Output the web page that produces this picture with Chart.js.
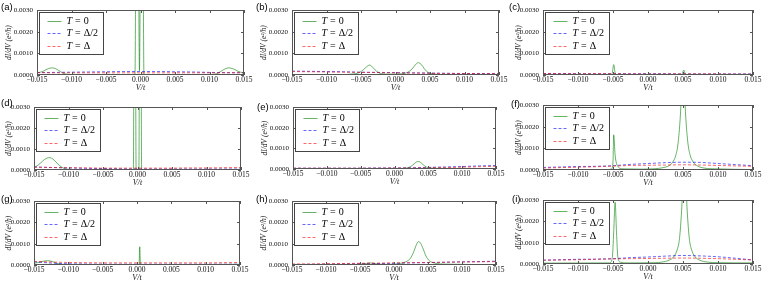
<!DOCTYPE html>
<html>
<head>
<meta charset="utf-8">
<script src="https://cdn.jsdelivr.net/npm/chart.js@4.4.0/dist/chart.umd.min.js"></script>
<style>
  body { margin: 0; background: #fff; }
  #wrap { position: relative; width: 763px; height: 283px; overflow: hidden; }
  #wrap canvas { position: absolute; }
  .tag { position: absolute; font: 9.5px "Liberation Sans", sans-serif; line-height: 1; color: #000; }
</style>
</head>
<body>
<div id="wrap"></div>
<script>
// common bias grid for the finite temperature curves
const vGrid = [-0.015, -0.0125, -0.01, -0.0075, -0.005, -0.0025, 0, 0.0025, 0.005, 0.0075, 0.01, 0.0125, 0.015];
const xTickVals = [-0.015, -0.01, -0.005, 0, 0.005, 0.01, 0.015];
const yTickVals = [0, 0.0005, 0.001, 0.0015, 0.002, 0.0025, 0.003];
const tags = ['(a)', '(b)', '(c)', '(d)', '(e)', '(f)', '(g)', '(h)', '(i)'];
const seriesLabels = ['T = 0', 'T = Δ/2', 'T = Δ'];

// T = 0 curves as [V, dI/dV] pairs
const aZero = [[-0.015, 0.0001], [-0.0145, 0.00013], [-0.014, 0.00019], [-0.0137, 0.00025], [-0.0133, 0.0003], [-0.0128, 0.00033], [-0.0123, 0.00029], [-0.0118, 0.0002], [-0.0113, 0.0001], [-0.0108, 0.00004], [-0.0102, 0.00002], [-0.009, 0.00001], [-0.002, 0.00001], [-0.0008, 0.00003], [-0.0005, 0.02], [-0.00015, 0.0002], [0.0002, 0.02], [0.0005, 0.00003], [0.002, 0.00001], [0.009, 0.00001], [0.0102, 0.00002], [0.0108, 0.00004], [0.0113, 0.0001], [0.0118, 0.0002], [0.0123, 0.00029], [0.0128, 0.00033], [0.0133, 0.0003], [0.0137, 0.00025], [0.014, 0.00019], [0.0145, 0.00013], [0.015, 0.0001]];
const bZero = [[-0.015, 0.00001], [-0.008, 0.00002], [-0.006, 0.00005], [-0.0052, 0.00012], [-0.0046, 0.00026], [-0.0041, 0.0004], [-0.0038, 0.00046], [-0.0035, 0.00042], [-0.003, 0.00025], [-0.0025, 0.00012], [-0.002, 0.00006], [-0.001, 0.00004], [0, 0.00004], [0.001, 0.00006], [0.0018, 0.00013], [0.0024, 0.00028], [0.0029, 0.00048], [0.0033, 0.00057], [0.0037, 0.0005], [0.0042, 0.00028], [0.0047, 0.00012], [0.0055, 0.00005], [0.007, 0.00002], [0.015, 0.00001]];
const cZero = [[-0.015, 0.00001], [-0.0053, 0.00002], [-0.0051, 0.0001], [-0.0049, 0.00048], [-0.0047, 0.0001], [-0.0045, 0.00002], [0.0047, 0.00002], [0.0049, 0.00006], [0.0051, 0.00023], [0.0053, 0.00006], [0.0055, 0.00002], [0.015, 0.00001]];
const dZero = [[-0.015, 0.00012], [-0.0145, 0.00021], [-0.014, 0.00035], [-0.0135, 0.0005], [-0.013, 0.00058], [-0.0127, 0.00059], [-0.0123, 0.00053], [-0.0118, 0.00038], [-0.0113, 0.00021], [-0.0108, 0.0001], [-0.0102, 0.00004], [-0.009, 0.00002], [-0.001, 0.00001], [-0.0006, 0.00003], [-0.0004, 0.02], [-0.0002, 0.00003], [0.0002, 0.00003], [0.0004, 0.02], [0.0006, 0.00003], [0.002, 0.00001], [0.015, 0.00001]];
const eZero = [[-0.015, 0.00001], [0.001, 0.00002], [0.0018, 0.00005], [0.0024, 0.00012], [0.0029, 0.00025], [0.0034, 0.00036], [0.0037, 0.00035], [0.0042, 0.00022], [0.0047, 0.0001], [0.0053, 0.00005], [0.007, 0.00003], [0.01, 0.00002], [0.015, 0.00001]];
const fZero = [[-0.015, 0.00001], [-0.0058, 0.00002], [-0.0052, 0.00005], [-0.005, 0.0004], [-0.0049, 0.00163], [-0.0047, 0.0007], [-0.0045, 0.0003], [-0.0042, 0.00012], [-0.0038, 0.00006], [-0.003, 0.00005], [-0.001, 0.00004], [0.001, 0.00006], [0.002, 0.0001], [0.003, 0.0002], [0.0035, 0.00035], [0.004, 0.00071], [0.0043, 0.00125], [0.0046, 0.0024], [0.0048, 0.00365], [0.005, 0.0044], [0.0052, 0.00365], [0.0054, 0.0024], [0.0057, 0.00125], [0.006, 0.00071], [0.0065, 0.00035], [0.007, 0.0002], [0.008, 0.00009], [0.01, 0.00005], [0.015, 0.00002]];
const gZero = [[-0.015, 0.00008], [-0.0145, 0.00011], [-0.014, 0.00015], [-0.0135, 0.00019], [-0.013, 0.0002], [-0.0125, 0.00018], [-0.012, 0.00012], [-0.0115, 0.00006], [-0.011, 0.00003], [-0.009, 0.00002], [0.0003, 0.00002], [0.0004, 0.00086], [0.0005, 0.00002], [0.015, 0.00003]];
const hZero = [[-0.015, 0.00001], [-0.006, 0.00002], [-0.0045, 0.00005], [-0.0035, 0.0001], [-0.0025, 0.00005], [-0.001, 0.00003], [0, 0.00004], [0.001, 0.00008], [0.0018, 0.00016], [0.0024, 0.00031], [0.0029, 0.00062], [0.0033, 0.00096], [0.0036, 0.0011], [0.0039, 0.00103], [0.0043, 0.00075], [0.0047, 0.00042], [0.0052, 0.0002], [0.006, 0.00009], [0.0075, 0.00004], [0.015, 0.00002]];
const iZero = [[-0.015, 0.00004], [-0.0055, 0.00005], [-0.0051, 0.0003], [-0.0049, 0.0015], [-0.0047, 0.0029], [-0.0045, 0.0015], [-0.0043, 0.0003], [-0.0039, 0.00008], [-0.003, 0.00005], [0.001, 0.00006], [0.002, 0.00009], [0.003, 0.00018], [0.0037, 0.00035], [0.0042, 0.0007], [0.0045, 0.0012], [0.0048, 0.0025], [0.005, 0.0038], [0.0052, 0.0045], [0.0054, 0.0038], [0.0056, 0.0025], [0.0059, 0.0012], [0.0062, 0.0007], [0.0067, 0.00035], [0.0074, 0.00018], [0.0085, 0.00009], [0.01, 0.00006], [0.015, 0.00005]];

// T = Delta/2 and T = Delta curves on vGrid
const aHalf = [0.00011, 0.00012, 0.00013, 0.00014, 0.00015, 0.00016, 0.00016, 0.00016, 0.00015, 0.00014, 0.00012, 0.00011, 0.0001];
const aFull = [0.00011, 0.0001, 0.0001, 0.0001, 0.0001, 0.0001, 0.0001, 0.0001, 0.0001, 0.0001, 0.0001, 0.0001, 0.00011];
const bHalf = [0.00018, 0.00017, 0.00016, 0.00015, 0.00013, 0.00012, 0.00011, 0.0001, 0.00009, 0.00008, 0.00007, 0.00007, 0.00006];
const bFull = [0.00016, 0.00015, 0.00014, 0.00013, 0.00012, 0.00011, 0.0001, 0.00009, 0.00008, 0.00007, 0.00007, 0.00006, 0.00006];
const cHalf = [0.00007, 0.00007, 0.00006, 0.00006, 0.00006, 0.00006, 0.00006, 0.00006, 0.00005, 0.00005, 0.00005, 0.00005, 0.00005];
const cFull = [0.00007, 0.00006, 0.00006, 0.00006, 0.00006, 0.00005, 0.00005, 0.00005, 0.00005, 0.00005, 0.00005, 0.00004, 0.00004];
const dHalf = [0.00015, 0.00012, 0.0001, 0.00008, 0.00007, 0.00006, 0.00005, 0.00005, 0.00005, 0.00005, 0.00005, 0.00005, 0.00005];
const dFull = [0.00013, 0.00012, 0.00011, 0.0001, 0.00009, 0.00009, 0.00009, 0.00009, 0.00009, 0.0001, 0.0001, 0.00011, 0.00012];
const eHalf = [0.00004, 0.00004, 0.00004, 0.00004, 0.00004, 0.00005, 0.00005, 0.00006, 0.00008, 0.0001, 0.00012, 0.00015, 0.00017];
const eFull = [0.00004, 0.00004, 0.00004, 0.00004, 0.00004, 0.00004, 0.00005, 0.00005, 0.00006, 0.00007, 0.00009, 0.00011, 0.00013];
const fHalf = [0.00012, 0.00014, 0.00016, 0.00017, 0.0002, 0.00026, 0.0003, 0.00034, 0.00036, 0.00035, 0.0003, 0.00025, 0.0002];
const fFull = [0.00009, 0.00011, 0.00013, 0.00015, 0.00018, 0.00021, 0.00022, 0.00023, 0.00024, 0.00023, 0.00021, 0.00019, 0.00017];
const gHalf = [0.00015, 0.00009, 0.00006, 0.00005, 0.00004, 0.00004, 0.00004, 0.00004, 0.00004, 0.00004, 0.00004, 0.00004, 0.00004];
const gFull = [0.00017, 0.00014, 0.00012, 0.00011, 0.0001, 0.0001, 0.0001, 0.0001, 0.0001, 0.0001, 0.0001, 0.00011, 0.00012];
const hHalf = [0.00002, 0.00003, 0.00004, 0.00005, 0.00006, 0.00007, 0.00008, 0.0001, 0.00011, 0.00013, 0.00015, 0.00016, 0.00018];
const hFull = [0.00005, 0.00005, 0.00006, 0.00007, 0.00008, 0.00009, 0.0001, 0.00011, 0.00012, 0.00013, 0.00014, 0.00015, 0.00016];
const iHalf = [0.00018, 0.0002, 0.00022, 0.00023, 0.00025, 0.0003, 0.00033, 0.00037, 0.0004, 0.00038, 0.00034, 0.00027, 0.00019];
const iFull = [0.00018, 0.00019, 0.0002, 0.00022, 0.00024, 0.00025, 0.00026, 0.00027, 0.00028, 0.00027, 0.00025, 0.00022, 0.00019];

const zeroSets = [aZero, bZero, cZero, dZero, eZero, fZero, gZero, hZero, iZero];
const halfSets = [aHalf, bHalf, cHalf, dHalf, eHalf, fHalf, gHalf, hHalf, iHalf];
const fullSets = [aFull, bFull, cFull, dFull, eFull, fFull, gFull, hFull, iFull];

// page layout: plot box edges, y axis width, tag position
const boxes = [
  { l: 37, t: 7, r: 244, b: 75, yw: 37, tx: 1, ty: 2 },
  { l: 292, t: 7, r: 499, b: 75, yw: 37, tx: 256, ty: 2 },
  { l: 543, t: 7, r: 753, b: 75, yw: 33, tx: 509, ty: 2 },
  { l: 34, t: 104, r: 241, b: 170, yw: 34, tx: 1, ty: 98 },
  { l: 293, t: 104, r: 496, b: 169, yw: 37, tx: 257, ty: 102 },
  { l: 543, t: 102, r: 753, b: 170, yw: 33, tx: 511, ty: 99 },
  { l: 34, t: 198, r: 240, b: 265, yw: 34, tx: 1, ty: 194 },
  { l: 292, t: 198, r: 496, b: 265, yw: 37, tx: 256, ty: 194 },
  { l: 543, t: 197, r: 753, b: 264, yw: 33, tx: 512, ty: 194 }
];
const padTop = 5, padRight = 10, xh = 20;

const serif = '"Liberation Serif", "DejaVu Serif", serif';

function fmtX(v) {
  if (Math.abs(v) < 1e-9) v = 0;
  return v.toFixed(3).replace('-', '\u2212');
}

const framePlugin = {
  id: 'frame',
  afterDatasetsDraw(chart) {
    const { ctx, chartArea: a, scales } = chart;
    const L = Math.round(a.left), R = Math.round(a.right), T = Math.round(a.top), B = Math.round(a.bottom);
    ctx.save();
    ctx.strokeStyle = '#555';
    ctx.lineWidth = 1;
    ctx.setLineDash([]);
    ctx.beginPath();
    scales.x.ticks.forEach(t => {
      const px = Math.round(scales.x.getPixelForValue(t.value)) + 0.5;
      ctx.moveTo(px, B); ctx.lineTo(px, B - 3);
      ctx.moveTo(px, T); ctx.lineTo(px, T + 3);
    });
    scales.y.ticks.forEach(t => {
      const py = Math.round(scales.y.getPixelForValue(t.value)) + 0.5;
      ctx.moveTo(L, py); ctx.lineTo(L + 3, py);
      ctx.moveTo(R, py); ctx.lineTo(R - 3, py);
    });
    ctx.stroke();
    ctx.strokeRect(L + 0.5, T + 0.5, R - L - 1, B - T - 1);

    // legend box in the upper left corner
    const bx = L + 2.5, by = T + 2.5, bw = 64, bh = 42;
    ctx.fillStyle = '#fff';
    ctx.fillRect(bx, by, bw, bh);
    ctx.strokeStyle = '#444';
    ctx.strokeRect(bx, by, bw, bh);
    ctx.textBaseline = 'middle';
    ctx.textAlign = 'left';
    seriesLabels.forEach((lab, i) => {
      const ds = chart.data.datasets[i];
      const ry = Math.round(by + 8 + i * 12.5) + 0.5;
      ctx.strokeStyle = ds.borderColor;
      ctx.setLineDash(ds.borderDash || []);
      ctx.beginPath();
      ctx.moveTo(bx + 8, ry); ctx.lineTo(bx + 22, ry);
      ctx.stroke();
      ctx.setLineDash([]);
      const parts = lab.split(' = ');
      let tx = bx + 27;
      ctx.fillStyle = '#000';
      ctx.font = 'italic 10px ' + serif;
      ctx.fillText(parts[0], tx, ry);
      tx += ctx.measureText(parts[0]).width + 3;
      ctx.font = '10px ' + serif;
      ctx.fillText('=', tx, ry);
      tx += ctx.measureText('=').width + 3;
      ctx.fillText(parts[1], tx, ry);
    });
    ctx.restore();
  }
};

const wrap = document.getElementById('wrap');

boxes.forEach((bx, k) => {
  const w = bx.yw + (bx.r - bx.l) + padRight;
  const h = padTop + (bx.b - bx.t) + xh;
  const cv = document.createElement('canvas');
  cv.width = w; cv.height = h;
  cv.style.left = (bx.l - bx.yw) + 'px';
  cv.style.top = (bx.t - padTop) + 'px';
  cv.style.width = w + 'px';
  cv.style.height = h + 'px';
  wrap.appendChild(cv);

  const tag = document.createElement('div');
  tag.className = 'tag';
  tag.textContent = tags[k];
  tag.style.left = bx.tx + 'px';
  tag.style.top = bx.ty + 'px';
  wrap.appendChild(tag);

  const zero = zeroSets[k], half = halfSets[k], full = fullSets[k];

  new Chart(cv.getContext('2d'), {
    type: 'line',
    data: {
      datasets: [
        {
          label: seriesLabels[0],
          data: zero.map(p => ({ x: p[0], y: p[1] })),
          borderColor: 'rgba(0,128,0,0.6)',
          borderWidth: 1,
          order: 3
        },
        {
          label: seriesLabels[1],
          data: vGrid.map((v, i) => ({ x: v, y: half[i] })),
          borderColor: 'rgba(0,0,255,0.6)',
          borderWidth: 1,
          borderDash: [3, 2],
          order: 2
        },
        {
          label: seriesLabels[2],
          data: vGrid.map((v, i) => ({ x: v, y: full[i] })),
          borderColor: 'rgba(255,0,0,0.6)',
          borderWidth: 1,
          borderDash: [3, 2],
          order: 1
        }
      ]
    },
    options: {
      responsive: false,
      animation: false,
      devicePixelRatio: 1,
      parsing: false,
      layout: { padding: { top: padTop, right: padRight, left: 0, bottom: 0 } },
      elements: {
        point: { radius: 0 },
        line: { cubicInterpolationMode: 'monotone', fill: false }
      },
      plugins: { legend: { display: false }, tooltip: { enabled: false } },
      scales: {
        x: {
          type: 'linear',
          min: -0.015,
          max: 0.015,
          afterBuildTicks: s => { s.ticks = xTickVals.map(v => ({ value: v })); },
          afterFit: s => { s.height = xh; },
          grid: { display: false, drawTicks: false },
          border: { display: false },
          ticks: {
            maxRotation: 0,
            autoSkip: false,
            padding: 1,
            color: '#111',
            font: { family: serif, size: 7.5 },
            callback: v => fmtX(v)
          },
          title: {
            display: true,
            text: 'V/t',
            color: '#111',
            padding: { top: 0, bottom: 2 },
            font: { family: serif, size: 8, style: 'italic' }
          }
        },
        y: {
          min: 0,
          max: 0.003,
          afterBuildTicks: s => { s.ticks = yTickVals.map(v => ({ value: v })); },
          afterFit: s => { s.width = bx.yw; },
          grid: { display: false, drawTicks: false },
          border: { display: false },
          ticks: {
            padding: 4,
            color: '#111',
            font: { family: serif, size: 7 },
            callback: v => v.toFixed(4)
          },
          title: {
            display: true,
            text: 'dI/dV (e\u00b2/h)',
            color: '#111',
            padding: { top: 5, bottom: 0 },
            font: { family: serif, size: 7.5, style: 'italic' }
          }
        }
      }
    },
    plugins: [framePlugin]
  });
});
</script>
</body>
</html>
